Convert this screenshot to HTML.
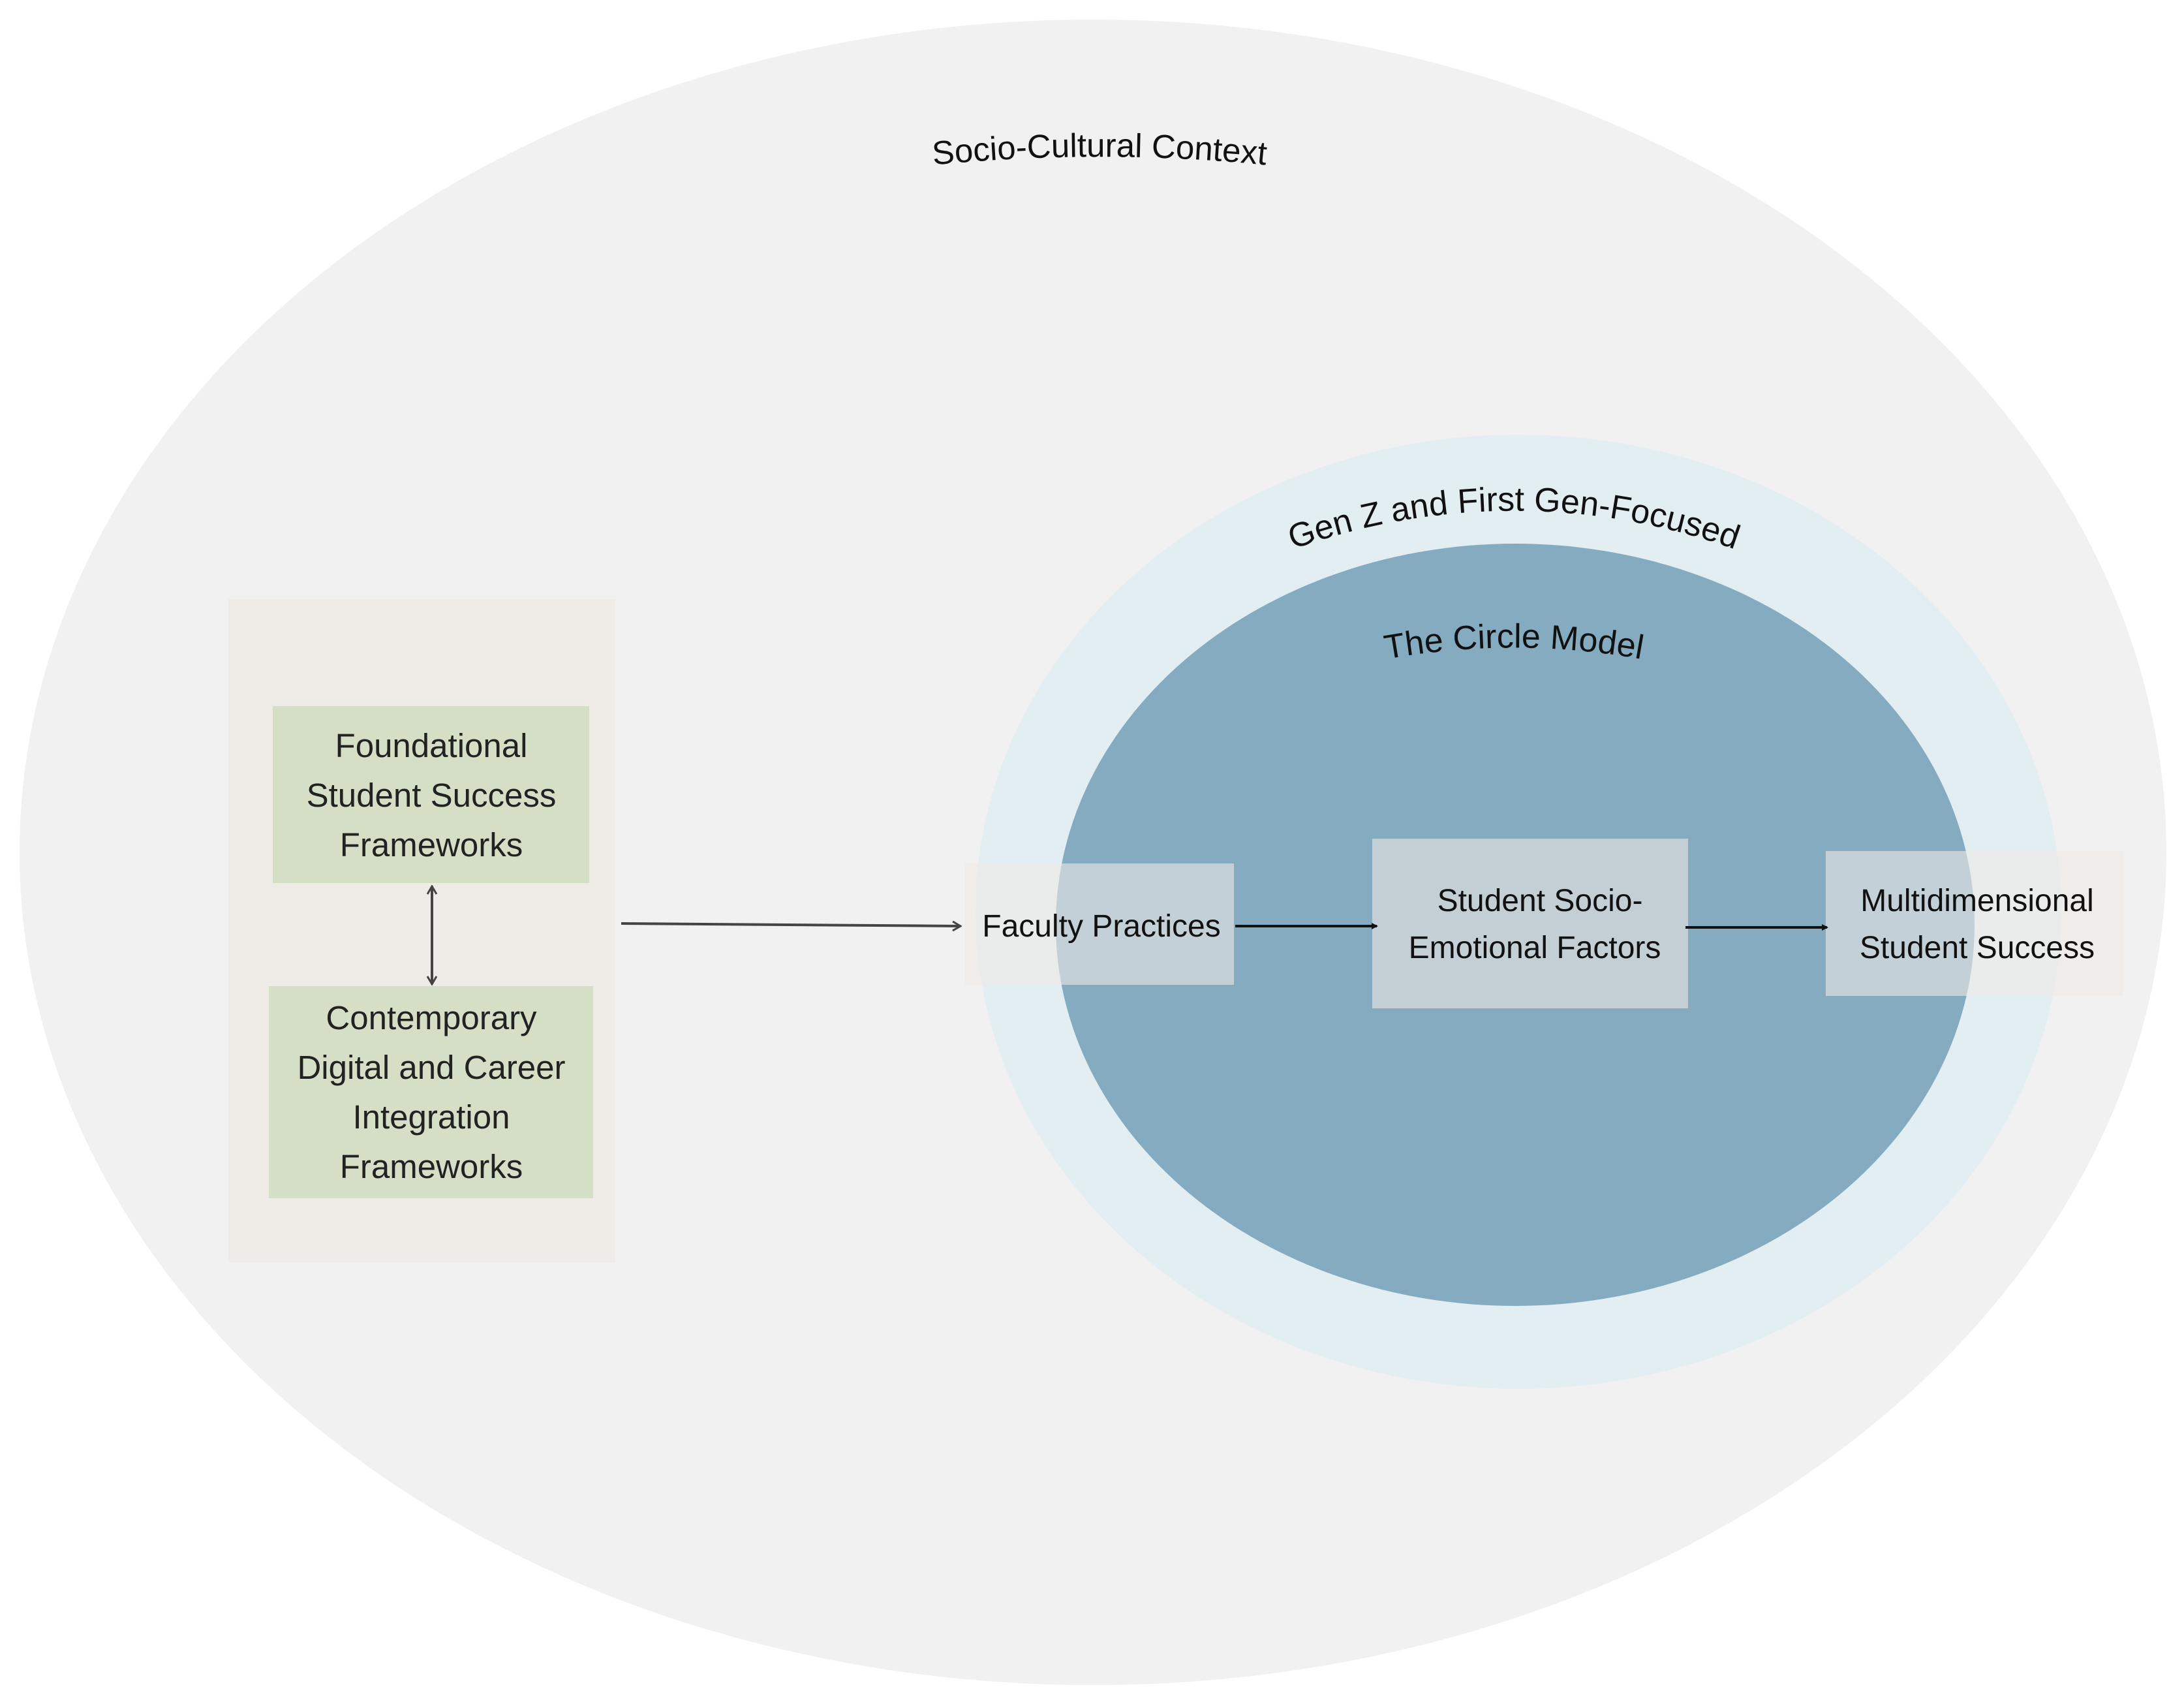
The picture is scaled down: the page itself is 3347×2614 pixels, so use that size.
<!DOCTYPE html>
<html><head><meta charset="utf-8"><style>html,body{margin:0;padding:0;background:#fff}svg{display:block}</style></head>
<body>
<svg width="3347" height="2614" viewBox="0 0 3347 2614" xmlns="http://www.w3.org/2000/svg" font-family="Liberation Sans, Arial, sans-serif">
<defs>
<marker id="ah" markerWidth="10" markerHeight="10" refX="8" refY="5" orient="auto" markerUnits="userSpaceOnUse"><path d="M0,0 L10,5 L0,10 Z" fill="#111"/></marker>
<marker id="oa" markerWidth="16" markerHeight="18" refX="14" refY="9" orient="auto-start-reverse" markerUnits="userSpaceOnUse"><path d="M2,2 L14,9 L2,16" fill="none" stroke="#444" stroke-width="3"/></marker>
<path id="p1" d="M1390,257 A2600,2600 0 0 1 1980,257"/>
<path id="p2" d="M1850,900 A1000,1000 0 0 1 2790,900"/>
<path id="p3" d="M2000,1040 A1100,1100 0 0 1 2640,1040"/>
</defs>
<ellipse cx="1675" cy="1306" rx="1645" ry="1276" fill="#f1f1f1"/>
<text font-size="51" fill="#111"><textPath href="#p1" startOffset="50%" text-anchor="middle">Socio-Cultural Context</textPath></text>
<ellipse cx="2327" cy="1397" rx="832" ry="731" fill="#e3eef3"/>
<ellipse cx="2322" cy="1417" rx="704" ry="584" fill="#85abc1"/>
<text font-size="52" fill="#111"><textPath href="#p2" startOffset="50%" text-anchor="middle">Gen Z and First Gen-Focused</textPath></text>
<text font-size="52" fill="#111"><textPath href="#p3" startOffset="50%" text-anchor="middle">The Circle Model</textPath></text>

<rect x="350" y="918" width="593" height="1016" fill="#efebe6"/>
<rect x="418" y="1082" width="485" height="271" fill="#d5dfc6"/>
<rect x="412" y="1511" width="497" height="325" fill="#d5dfc6"/>
<g font-size="51" fill="#222" text-anchor="middle">
<text x="661" y="1160">Foundational</text>
<text x="661" y="1236">Student Success</text>
<text x="661" y="1312">Frameworks</text>
<text x="661" y="1577">Contemporary</text>
<text x="661" y="1653">Digital  and Career</text>
<text x="661" y="1729">Integration</text>
<text x="661" y="1805">Frameworks</text>
</g>
<line x1="662" y1="1358" x2="662" y2="1508" stroke="#444" stroke-width="4" marker-start="url(#oa)" marker-end="url(#oa)"/>
<line x1="952" y1="1415" x2="1472" y2="1419" stroke="#444" stroke-width="4" marker-end="url(#oa)"/>

<rect x="1479" y="1323" width="412" height="186" fill="rgb(238,234,230)" fill-opacity="0.6"/>
<rect x="2103" y="1285" width="484" height="260" fill="#c4cfd5"/>
<rect x="2798" y="1304" width="455" height="222" fill="rgb(238,234,230)" fill-opacity="0.6"/>
<g font-size="48" fill="#111" text-anchor="middle">
<text x="1688" y="1435">Faculty Practices</text>
<text x="2360" y="1396">Student Socio-</text>
<text x="2352" y="1468">Emotional Factors</text>
<text x="3030" y="1396">Multidimensional</text>
<text x="3030" y="1468">Student Success</text>
</g>
<line x1="1893" y1="1419" x2="2110" y2="1419" stroke="#111" stroke-width="4" marker-end="url(#ah)"/>
<line x1="2583" y1="1421" x2="2800" y2="1421" stroke="#111" stroke-width="4" marker-end="url(#ah)"/>
</svg>
</body></html>
